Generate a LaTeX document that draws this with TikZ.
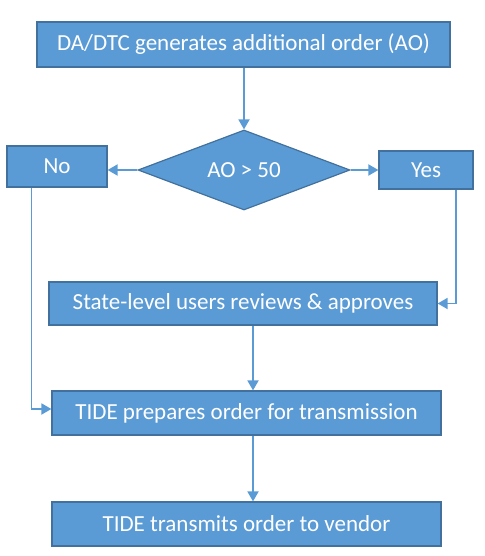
\documentclass[tikz,border=0pt]{standalone}
\usepackage{fontspec}
\setmainfont{Carlito}
\usetikzlibrary{shapes.geometric,arrows.meta}
\definecolor{BoxBlue}{HTML}{5B9BD5}
\definecolor{EdgeBlue}{HTML}{41719C}
\tikzset{
  stepbox/.style={draw=EdgeBlue,line width=1.2pt,fill=BoxBlue,text=white,inner sep=0pt,font=\fontsize{23}{26}\selectfont},
  link/.style={draw=BoxBlue,line width=1.8pt,-{Triangle[length=10pt,width=11pt]}}
}
\begin{document}
\begin{tikzpicture}[x=1pt,y=-1pt]
    \useasboundingbox (0,0) rectangle (484,556);
    \node[stepbox,minimum width=413pt,minimum height=45pt] (gen) at (243.5,44.5) {DA/DTC generates additional order (AO)};
    \node[stepbox,shape=diamond,aspect=2.6,minimum width=212pt,minimum height=80pt] (dec) at (244,170) {AO > 50};
    \node[stepbox,minimum width=100pt,minimum height=41pt] (no) at (57,166.5) {No};
    \node[stepbox,minimum width=94pt,minimum height=38pt] (yes) at (426,170) {Yes};
    \node[stepbox,minimum width=388pt,minimum height=43pt] (state) at (243,303.5) {State-level users reviews \& approves};
    \node[stepbox,minimum width=389pt,minimum height=44pt] (prep) at (246.5,413) {TIDE prepares order for transmission};
    \node[stepbox,minimum width=389pt,minimum height=44pt] (send) at (246.5,524) {TIDE transmits order to vendor};
    \coordinate (mid) at (253,0);

    \draw[link] (gen.south -| dec.north) -- (dec.north);
    \draw[link] (dec.west) -- (dec.west -| no.east);
    \draw[link] (dec.east) -- (dec.east -| yes.west);
    \draw[link] ([xshift=-18pt]yes.south east) |- (state.east);
    \draw[link] ([xshift=25pt]no.south west) |- ([yshift=4pt]prep.west);
    \draw[link] (state.south -| mid) -- (prep.north -| mid);
    \draw[link] (prep.south -| mid) -- (send.north -| mid);
\end{tikzpicture}
\end{document}
